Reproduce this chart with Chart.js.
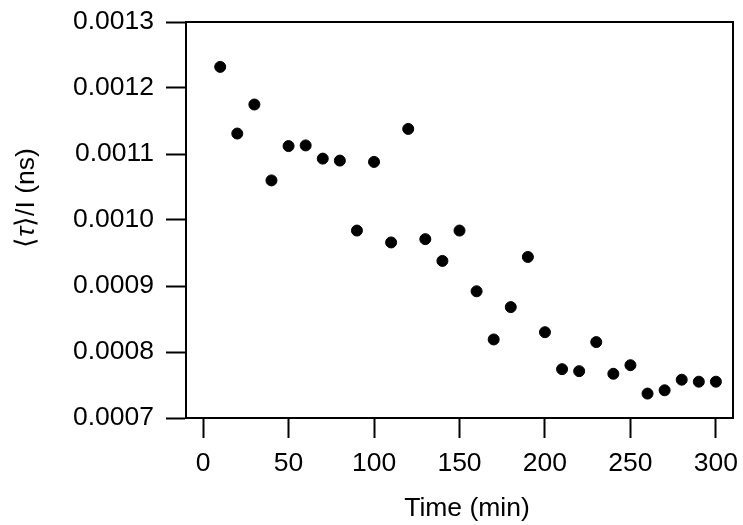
<!DOCTYPE html>
<html>
<head>
<meta charset="utf-8">
<script src="https://cdn.jsdelivr.net/npm/chart.js@4/dist/chart.umd.min.js"></script>
<style>
  html, body { margin: 0; padding: 0; background: #fff; }
  #wrap { width: 743px; height: 525px; }
</style>
</head>
<body>
<div id="wrap"><canvas id="chart"></canvas></div>
<script>
// time points (min) and <tau>/I values (ns)
const times = [10, 20, 30, 40, 50, 60, 70, 80, 90, 100,
               110, 120, 130, 140, 150, 160, 170, 180, 190, 200,
               210, 220, 230, 240, 250, 260, 270, 280, 290, 300];
const tauOverI = [0.001232, 0.001131, 0.001175, 0.001060, 0.001112, 0.001113, 0.001093, 0.001090, 0.000984, 0.001088,
                  0.000966, 0.001138, 0.000971, 0.000938, 0.000984, 0.000892, 0.000819, 0.000868, 0.000944, 0.000830,
                  0.000774, 0.000771, 0.000815, 0.000767, 0.000780, 0.000737, 0.000742, 0.000758, 0.000755, 0.000755];
const xTitle = 'Time (min)';
const yTitleParts = ['\u27E8', '\u03C4', '\u27E9/I (ns)'];

const FONT = '"Liberation Sans", Arial, sans-serif';
const FS = 26.5;

// frame round the plot area plus the two axis titles
const framePlugin = {
  id: 'frame',
  afterDraw(chart) {
    const { ctx, chartArea: a } = chart;
    ctx.save();
    ctx.strokeStyle = '#000';
    ctx.lineWidth = 2;
    ctx.strokeRect(a.left, a.top, a.right - a.left, a.bottom - a.top);

    ctx.fillStyle = '#000';
    ctx.font = FS + 'px ' + FONT;
    ctx.textAlign = 'center';
    ctx.textBaseline = 'alphabetic';
    ctx.fillText(xTitle, 467, 516);

    // y title, tau in italics
    ctx.translate(27, 198);
    ctx.rotate(-Math.PI / 2);
    ctx.textAlign = 'left';
    ctx.textBaseline = 'middle';
    const fonts = [FS + 'px ' + FONT, 'italic ' + FS + 'px ' + FONT, FS + 'px ' + FONT];
    let total = 0;
    yTitleParts.forEach((t, i) => { ctx.font = fonts[i]; total += ctx.measureText(t).width; });
    let x = -total / 2;
    yTitleParts.forEach((t, i) => {
      ctx.font = fonts[i];
      ctx.fillText(t, x, 0);
      x += ctx.measureText(t).width;
    });
    ctx.restore();
  }
};

new Chart(document.getElementById('chart'), {
  type: 'scatter',
  data: {
    datasets: [{
      data: times.map((t, i) => ({ x: t, y: tauOverI[i] })),
      backgroundColor: '#000',
      borderColor: '#000',
      pointRadius: 5.5,
      pointHoverRadius: 5.5
    }]
  },
  options: {
    responsive: true,
    maintainAspectRatio: false,
    animation: false,
    layout: { padding: { top: 22, right: 10, left: 0, bottom: 0 } },
    plugins: { legend: { display: false }, tooltip: { enabled: false } },
    scales: {
      x: {
        type: 'linear',
        min: -10,
        max: 310,
        afterFit(s) { s.height = 107; s.paddingLeft = 0; s.paddingRight = 0; },
        border: { display: true, color: '#000', width: 2 },
        grid: { display: true, drawOnChartArea: false, drawTicks: true, tickLength: 20, tickWidth: 2, tickColor: '#000' },
        ticks: {
          stepSize: 50,
          includeBounds: false,
          padding: 10,
          color: '#000',
          font: { family: FONT, size: FS }
        }
      },
      y: {
        type: 'linear',
        min: 0.0007,
        max: 0.0013,
        afterFit(s) { s.width = 186; s.paddingTop = 0; s.paddingBottom = 0; },
        border: { display: true, color: '#000', width: 2 },
        grid: { display: true, drawOnChartArea: false, drawTicks: true, tickLength: 20, tickWidth: 2, tickColor: '#000' },
        ticks: {
          stepSize: 0.0001,
          padding: 12,
          color: '#000',
          font: { family: FONT, size: FS },
          callback: v => v.toFixed(4)
        }
      }
    }
  },
  plugins: [framePlugin]
});
</script>
</body>
</html>
